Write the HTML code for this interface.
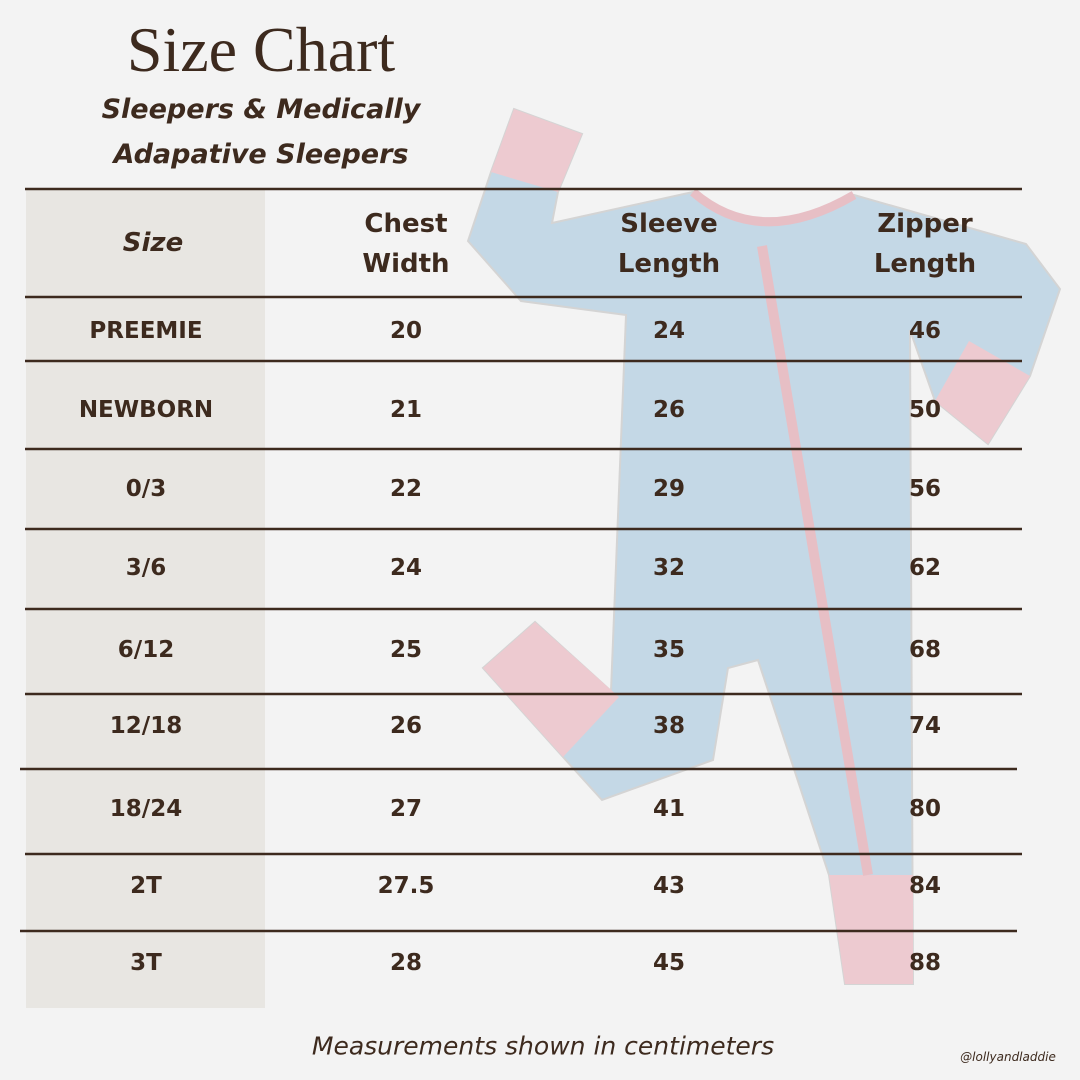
<!DOCTYPE html>
<html><head><meta charset="utf-8"><style>
body{margin:0;width:1080px;height:1080px;background:#f3f3f3;position:relative;overflow:hidden;font-family:"DejaVu Sans","Liberation Sans",sans-serif;color:#3d2a1e}
.t{position:absolute;transform:translate(-50%,-50%);white-space:nowrap;font-weight:bold}
.h{font-size:26px;text-align:center;line-height:40px}
.d{font-size:23px}
</style></head><body>
<div style="position:absolute;left:26px;top:190px;width:239px;height:818px;background:#e8e6e2"></div>
<svg width="1080" height="1080" style="position:absolute;left:0;top:0">
<g opacity="0.85">
<path d="M552,223 L693,192 Q760,250 854,195 L1026,244 L1060,289 L1030,376 L988,444 L935,401 L910,330 L913,984 L845,984 L829,875 L758,660 L728,668 L713,760 L602,800 L563,757 L483,668 L535,622 L611,691 L626,315 L521,301 L468,241 L491,172 L514,109 L582,134 L558,192 Z" fill="#bcd4e4" stroke="#cfcfcf" stroke-width="2"/>
<polygon points="514,109 582,134 558,192 491,172" fill="#ecc4cb"/>
<polygon points="969,341 1030,376 988,444 935,401" fill="#ecc4cb"/>
<polygon points="535,622 619,697 563,757 483,668" fill="#ecc4cb"/>
<polygon points="829,875 913,875 913,984 845,984" fill="#ecc4cb"/>
<path d="M693,192 Q760,250 854,195" fill="none" stroke="#e6b6be" stroke-width="9"/>
<path d="M762,246 L868,875" stroke="#e6b6be" stroke-width="10"/>
</g>
<g stroke="#3d2a1e" stroke-width="2.5">
<line x1="25" y1="189" x2="1022" y2="189"/>
<line x1="25" y1="297" x2="1022" y2="297"/>
<line x1="25" y1="361" x2="1022" y2="361"/>
<line x1="25" y1="449" x2="1022" y2="449"/>
<line x1="25" y1="529" x2="1022" y2="529"/>
<line x1="25" y1="609" x2="1022" y2="609"/>
<line x1="25" y1="694" x2="1022" y2="694"/>
<line x1="20" y1="769" x2="1017" y2="769"/>
<line x1="25" y1="854" x2="1022" y2="854"/>
<line x1="20" y1="931" x2="1017" y2="931"/>
</g>
</svg>
<div class="t" style="left:261px;top:50px;font-family:'Liberation Serif',serif;font-weight:normal;font-size:64px">Size Chart</div>
<div class="t" style="left:261px;top:132px;font-style:italic;font-size:27px;text-align:center;line-height:45px">Sleepers &amp; Medically<br>Adapative Sleepers</div>
<div class="t h" style="left:153px;top:243px;font-style:italic">Size</div>
<div class="t h" style="left:406px;top:244px">Chest<br>Width</div>
<div class="t h" style="left:669px;top:244px">Sleeve<br>Length</div>
<div class="t h" style="left:925px;top:244px">Zipper<br>Length</div>
<div class="t d" style="left:146px;top:331px">PREEMIE</div><div class="t d" style="left:406px;top:331px">20</div><div class="t d" style="left:669px;top:331px">24</div><div class="t d" style="left:925px;top:331px">46</div>
<div class="t d" style="left:146px;top:410px">NEWBORN</div><div class="t d" style="left:406px;top:410px">21</div><div class="t d" style="left:669px;top:410px">26</div><div class="t d" style="left:925px;top:410px">50</div>
<div class="t d" style="left:146px;top:489px">0/3</div><div class="t d" style="left:406px;top:489px">22</div><div class="t d" style="left:669px;top:489px">29</div><div class="t d" style="left:925px;top:489px">56</div>
<div class="t d" style="left:146px;top:568px">3/6</div><div class="t d" style="left:406px;top:568px">24</div><div class="t d" style="left:669px;top:568px">32</div><div class="t d" style="left:925px;top:568px">62</div>
<div class="t d" style="left:146px;top:650px">6/12</div><div class="t d" style="left:406px;top:650px">25</div><div class="t d" style="left:669px;top:650px">35</div><div class="t d" style="left:925px;top:650px">68</div>
<div class="t d" style="left:146px;top:726px">12/18</div><div class="t d" style="left:406px;top:726px">26</div><div class="t d" style="left:669px;top:726px">38</div><div class="t d" style="left:925px;top:726px">74</div>
<div class="t d" style="left:146px;top:809px">18/24</div><div class="t d" style="left:406px;top:809px">27</div><div class="t d" style="left:669px;top:809px">41</div><div class="t d" style="left:925px;top:809px">80</div>
<div class="t d" style="left:146px;top:886px">2T</div><div class="t d" style="left:406px;top:886px">27.5</div><div class="t d" style="left:669px;top:886px">43</div><div class="t d" style="left:925px;top:886px">84</div>
<div class="t d" style="left:146px;top:963px">3T</div><div class="t d" style="left:406px;top:963px">28</div><div class="t d" style="left:669px;top:963px">45</div><div class="t d" style="left:925px;top:963px">88</div>
<div class="t" style="left:543px;top:1046px;font-weight:normal;font-style:italic;font-size:25px">Measurements shown in centimeters</div>
<div class="t" style="left:1008px;top:1057px;font-weight:normal;font-style:italic;font-size:12px">@lollyandladdie</div>
</body></html>
